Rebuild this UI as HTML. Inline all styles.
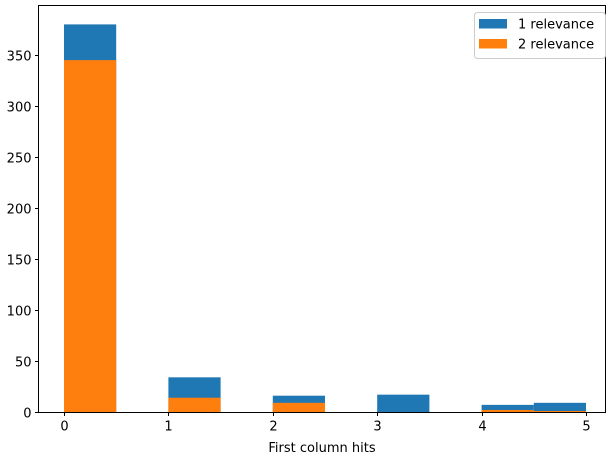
<!DOCTYPE html>
<html><head><meta charset="utf-8"><style>
body{margin:0;background:#fff;}
svg{display:block;font-family:"DejaVu Sans","Liberation Sans",sans-serif;}
</style></head><body>
<svg id="chart" width="616" height="455"></svg>
<script>
const binStarts=[0,0.5,1,1.5,2,2.5,3,3.5,4,4.5];
const binWidth=0.5;
const rel1=[380,0,34,0,16,0,17,0,7,9];
const rel2=[345,0,14,0,9,0,0,0,2,1];
const xTicks=[0,1,2,3,4,5];
const yTicks=[0,50,100,150,200,250,300,350];
const seriesNames=["1 relevance","2 relevance"];
const colors=["#1f77b4","#ff7f0e"];

const L=38.5,R=605.5,T=5.5,B=412.5;
const x=v=>64+v*104.4;
const y=v=>412-v*1.02;
const svg=document.getElementById('chart');
const NS='http://www.w3.org/2000/svg';
function mk(tag,attrs,parent){const e=document.createElementNS(NS,tag);for(const k in attrs)e.setAttribute(k,attrs[k]);(parent||svg).appendChild(e);return e;}

[rel1,rel2].forEach((series,si)=>{
  const g=mk('g',{});
  
  
  series.forEach((v,i)=>{
    if(v<=0)return;
    const r=mk('rect',{x:x(binStarts[i]),y:y(v),width:x(binStarts[i]+binWidth)-x(binStarts[i]),height:y(0)-y(v),fill:colors[si]},g);
    
    
  });
});

const frame=mk('rect',{x:L,y:T,width:R-L,height:B-T,fill:'none',stroke:'#000','stroke-width':1});



xTicks.forEach(t=>{
  const px=Math.round(x(t))+0.5;
  mk('line',{x1:px,x2:px,y1:B,y2:B+3.5,stroke:'#000'});
  const tx=mk('text',{x:px,y:B+18,'font-size':13,'text-anchor':'middle',fill:'#000'});
  tx.textContent=t;
  
  
});
yTicks.forEach(t=>{
  const py=Math.round(y(t))+0.5;
  mk('line',{x1:L-3.5,x2:L,y1:py,y2:py,stroke:'#000'});
  const tx=mk('text',{x:L-7,y:py+5,'font-size':13,'text-anchor':'end',fill:'#000'});
  tx.textContent=t;
  
  
});
const xl=mk('text',{x:(L+R)/2,y:452,'font-size':13,'text-anchor':'middle',fill:'#000'});
xl.textContent='First column hits';



const lg=mk('g',{});


mk('rect',{x:474.5,y:12.5,width:131,height:46,rx:3,fill:'#fff','fill-opacity':0.8,stroke:'#ccc'},lg);
seriesNames.forEach((n,i)=>{
  const e=mk('g',{},lg);
  
  
  mk('rect',{x:479,y:19+i*20,width:28,height:9.5,fill:colors[i]},e);
  const t=mk('text',{x:518,y:28.5+i*20,'font-size':13,fill:'#000'},e);
  t.textContent=n;
});
</script>
</body></html>
